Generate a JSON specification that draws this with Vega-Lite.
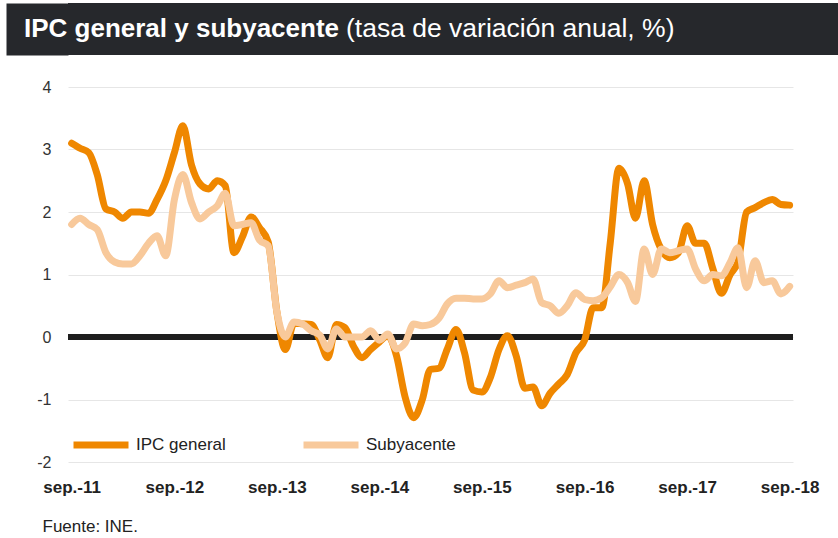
{
  "$schema": "https://vega.github.io/schema/vega-lite/v6.json",
  "background": "white",
  "padding": {"left": 6, "top": 3, "right": 0, "bottom": 0},
  "columns": 1,
  "spacing": 21,
  "config": {
    "view": {"stroke": null},
    "font": "Liberation Sans",
    "text": {"font": "Liberation Sans"}
  },
  "concat": [
    {
      "width": 770,
      "height": 52,
      "view": {"fill": "#26282c", "stroke": null},
      "data": {"values": [{"titulo": "IPC general y subyacente", "sub": "(tasa de variación anual, %)", "nivel": 0}]},
      "layer": [
        {
          "mark": {"type": "point", "opacity": 0},
          "encoding": {
            "y": {
              "field": "nivel", "type": "quantitative", "scale": {"domain": [0, 1]},
              "axis": {"title": null, "labels": false, "ticks": false, "grid": false, "domain": true,
                       "domainColor": "#26282c", "domainWidth": 62, "domainCap": "butt", "offset": 31}
            }
          }
        },
        {
          "mark": {"type": "text", "font": "Liberation Sans", "fontSize": 26, "fontWeight": "bold", "color": "white", "align": "left", "baseline": "alphabetic"},
          "encoding": {"text": {"field": "titulo"}, "x": {"value": -44}, "y": {"value": 34}}
        },
        {
          "mark": {"type": "text", "font": "Liberation Sans", "fontSize": 26.5, "fontWeight": "normal", "color": "white", "align": "left", "baseline": "alphabetic"},
          "encoding": {"text": {"field": "sub"}, "x": {"value": 278}, "y": {"value": 34}}
        }
      ]
    },
    {
      "width": 725,
      "height": 375,
      "layer": [
        {
          "data": {"values": [{"cero": 0}]},
          "mark": {"type": "rule", "color": "#1e1e1e", "strokeWidth": 6},
          "encoding": {"y": {"field": "cero", "type": "quantitative", "scale": {"domain": [-2, 4], "nice": false}}}
        },
        {
          "data": {"values": [
            {"fecha": "2011/09/01", "IPC general": 3.1, "Subyacente": 1.8},
            {"fecha": "2011/10/01", "IPC general": 3.02, "Subyacente": 1.9},
            {"fecha": "2011/11/01", "IPC general": 2.95, "Subyacente": 1.8},
            {"fecha": "2011/12/01", "IPC general": 2.6, "Subyacente": 1.72},
            {"fecha": "2012/01/01", "IPC general": 2.05, "Subyacente": 1.35},
            {"fecha": "2012/02/01", "IPC general": 2.0, "Subyacente": 1.2},
            {"fecha": "2012/03/01", "IPC general": 1.9, "Subyacente": 1.17},
            {"fecha": "2012/04/01", "IPC general": 2.0, "Subyacente": 1.17},
            {"fecha": "2012/05/01", "IPC general": 2.0, "Subyacente": 1.3},
            {"fecha": "2012/06/01", "IPC general": 1.98, "Subyacente": 1.5},
            {"fecha": "2012/07/01", "IPC general": 2.2, "Subyacente": 1.62},
            {"fecha": "2012/08/01", "IPC general": 2.5, "Subyacente": 1.3},
            {"fecha": "2012/09/01", "IPC general": 2.95, "Subyacente": 2.2},
            {"fecha": "2012/10/01", "IPC general": 3.38, "Subyacente": 2.6},
            {"fecha": "2012/11/01", "IPC general": 2.75, "Subyacente": 2.15},
            {"fecha": "2012/12/01", "IPC general": 2.45, "Subyacente": 1.89},
            {"fecha": "2013/01/01", "IPC general": 2.37, "Subyacente": 2.0},
            {"fecha": "2013/02/01", "IPC general": 2.5, "Subyacente": 2.1},
            {"fecha": "2013/03/01", "IPC general": 2.42, "Subyacente": 2.3},
            {"fecha": "2013/04/01", "IPC general": 1.35, "Subyacente": 1.78},
            {"fecha": "2013/05/01", "IPC general": 1.6, "Subyacente": 1.8},
            {"fecha": "2013/06/01", "IPC general": 1.92, "Subyacente": 1.83},
            {"fecha": "2013/07/01", "IPC general": 1.75, "Subyacente": 1.55},
            {"fecha": "2013/08/01", "IPC general": 1.52, "Subyacente": 1.46},
            {"fecha": "2013/09/01", "IPC general": 0.4, "Subyacente": 0.4},
            {"fecha": "2013/10/01", "IPC general": -0.2, "Subyacente": 0.0},
            {"fecha": "2013/11/01", "IPC general": 0.22, "Subyacente": 0.24},
            {"fecha": "2013/12/01", "IPC general": 0.21, "Subyacente": 0.21},
            {"fecha": "2014/01/01", "IPC general": 0.2, "Subyacente": 0.1},
            {"fecha": "2014/02/01", "IPC general": -0.05, "Subyacente": 0.03},
            {"fecha": "2014/03/01", "IPC general": -0.33, "Subyacente": -0.19},
            {"fecha": "2014/04/01", "IPC general": 0.2, "Subyacente": 0.13},
            {"fecha": "2014/05/01", "IPC general": 0.15, "Subyacente": 0.0},
            {"fecha": "2014/06/01", "IPC general": -0.15, "Subyacente": 0.0},
            {"fecha": "2014/07/01", "IPC general": -0.33, "Subyacente": 0.0},
            {"fecha": "2014/08/01", "IPC general": -0.2, "Subyacente": 0.1},
            {"fecha": "2014/09/01", "IPC general": -0.08, "Subyacente": -0.05},
            {"fecha": "2014/10/01", "IPC general": 0.02, "Subyacente": 0.05},
            {"fecha": "2014/11/01", "IPC general": -0.3, "Subyacente": -0.19},
            {"fecha": "2014/12/01", "IPC general": -0.95, "Subyacente": -0.1},
            {"fecha": "2015/01/01", "IPC general": -1.29, "Subyacente": 0.21},
            {"fecha": "2015/02/01", "IPC general": -1.0, "Subyacente": 0.18},
            {"fecha": "2015/03/01", "IPC general": -0.52, "Subyacente": 0.2},
            {"fecha": "2015/04/01", "IPC general": -0.5, "Subyacente": 0.3},
            {"fecha": "2015/05/01", "IPC general": -0.19, "Subyacente": 0.53},
            {"fecha": "2015/06/01", "IPC general": 0.12, "Subyacente": 0.62},
            {"fecha": "2015/07/01", "IPC general": -0.25, "Subyacente": 0.62},
            {"fecha": "2015/08/01", "IPC general": -0.85, "Subyacente": 0.61},
            {"fecha": "2015/09/01", "IPC general": -0.88, "Subyacente": 0.61},
            {"fecha": "2015/10/01", "IPC general": -0.65, "Subyacente": 0.69},
            {"fecha": "2015/11/01", "IPC general": -0.2, "Subyacente": 0.9},
            {"fecha": "2015/12/01", "IPC general": 0.02, "Subyacente": 0.79},
            {"fecha": "2016/01/01", "IPC general": -0.3, "Subyacente": 0.83},
            {"fecha": "2016/02/01", "IPC general": -0.82, "Subyacente": 0.87},
            {"fecha": "2016/03/01", "IPC general": -0.8, "Subyacente": 0.93},
            {"fecha": "2016/04/01", "IPC general": -1.1, "Subyacente": 0.55},
            {"fecha": "2016/05/01", "IPC general": -0.9, "Subyacente": 0.5},
            {"fecha": "2016/06/01", "IPC general": -0.75, "Subyacente": 0.38},
            {"fecha": "2016/07/01", "IPC general": -0.6, "Subyacente": 0.5},
            {"fecha": "2016/08/01", "IPC general": -0.25, "Subyacente": 0.71},
            {"fecha": "2016/09/01", "IPC general": -0.05, "Subyacente": 0.6},
            {"fecha": "2016/10/01", "IPC general": 0.47, "Subyacente": 0.58},
            {"fecha": "2016/11/01", "IPC general": 0.47, "Subyacente": 0.63},
            {"fecha": "2016/12/01", "IPC general": 1.5, "Subyacente": 0.8},
            {"fecha": "2017/01/01", "IPC general": 2.7, "Subyacente": 1.0},
            {"fecha": "2017/02/01", "IPC general": 2.45, "Subyacente": 0.87},
            {"fecha": "2017/03/01", "IPC general": 1.9, "Subyacente": 0.57},
            {"fecha": "2017/04/01", "IPC general": 2.5, "Subyacente": 1.41},
            {"fecha": "2017/05/01", "IPC general": 1.8, "Subyacente": 1.0},
            {"fecha": "2017/06/01", "IPC general": 1.4, "Subyacente": 1.41},
            {"fecha": "2017/07/01", "IPC general": 1.27, "Subyacente": 1.35},
            {"fecha": "2017/08/01", "IPC general": 1.35, "Subyacente": 1.38},
            {"fecha": "2017/09/01", "IPC general": 1.78, "Subyacente": 1.41},
            {"fecha": "2017/10/01", "IPC general": 1.5, "Subyacente": 1.09},
            {"fecha": "2017/11/01", "IPC general": 1.5, "Subyacente": 0.9},
            {"fecha": "2017/12/01", "IPC general": 1.1, "Subyacente": 1.0},
            {"fecha": "2018/01/01", "IPC general": 0.7, "Subyacente": 0.98},
            {"fecha": "2018/02/01", "IPC general": 1.0, "Subyacente": 1.19},
            {"fecha": "2018/03/01", "IPC general": 1.2, "Subyacente": 1.43},
            {"fecha": "2018/04/01", "IPC general": 2.0, "Subyacente": 0.79},
            {"fecha": "2018/05/01", "IPC general": 2.07, "Subyacente": 1.22},
            {"fecha": "2018/06/01", "IPC general": 2.15, "Subyacente": 0.87},
            {"fecha": "2018/07/01", "IPC general": 2.2, "Subyacente": 0.9},
            {"fecha": "2018/08/01", "IPC general": 2.12, "Subyacente": 0.69},
            {"fecha": "2018/09/01", "IPC general": 2.11, "Subyacente": 0.81}
          ]},
          "transform": [{"fold": ["IPC general", "Subyacente"], "as": ["serie", "valor"]}],
          "mark": {"type": "line", "strokeWidth": 7, "interpolate": "monotone", "strokeCap": "round", "strokeJoin": "round"},
          "encoding": {
            "x": {
              "field": "fecha", "type": "temporal",
              "scale": {"domain": [{"year": 2011, "month": 8, "date": 19}, {"year": 2018, "month": 9, "date": 13}]},
              "axis": {
                "values": [
                  {"year": 2011, "month": 9, "date": 1}, {"year": 2012, "month": 9, "date": 1},
                  {"year": 2013, "month": 9, "date": 1}, {"year": 2014, "month": 9, "date": 1},
                  {"year": 2015, "month": 9, "date": 1}, {"year": 2016, "month": 9, "date": 1},
                  {"year": 2017, "month": 9, "date": 1}, {"year": 2018, "month": 9, "date": 1}
                ],
                "labelExpr": "'sep.-' + timeFormat(datum.value, '%y')",
                "grid": false, "domain": false, "ticks": false,
                "labelPadding": 17, "labelFontSize": 17, "labelFontWeight": "bold", "labelColor": "#222222",
                "labelFont": "Liberation Sans",
                "title": "Fuente: INE.", "titleAnchor": "start", "titleAlign": "left", "titleBaseline": "alphabetic",
                "titleX": -26, "titleY": 69, "titleFontSize": 17, "titleFontWeight": "normal", "titleColor": "#222222",
                "titleFont": "Liberation Sans"
              }
            },
            "y": {
              "field": "valor", "type": "quantitative",
              "scale": {"domain": [-2, 4], "nice": false},
              "axis": {
                "values": [-2, -1, 0, 1, 2, 3, 4],
                "labelExpr": "datum.value < 0 ? '-' + abs(datum.value) : '' + datum.value",
                "title": null, "domain": false, "ticks": false,
                "grid": true, "gridColor": "#e6e6e6", "gridWidth": 1,
                "labelPadding": 17, "labelFontSize": 16, "labelColor": "#333333", "labelFont": "Liberation Sans",
                "minExtent": 62, "maxExtent": 62
              }
            },
            "color": {
              "field": "serie", "type": "nominal",
              "scale": {"domain": ["IPC general", "Subyacente"], "range": ["#ef8700", "#f8c99b"]},
              "legend": {
                "title": null, "orient": "none", "direction": "horizontal",
                "legendX": 2, "legendY": 411,
                "symbolType": "stroke", "symbolSize": 3025, "symbolStrokeWidth": 7,
                "labelFontSize": 17, "labelColor": "#222222", "labelFont": "Liberation Sans",
                "labelOffset": 4, "columnPadding": 63
              }
            }
          }
        }
      ]
    }
  ]
}
